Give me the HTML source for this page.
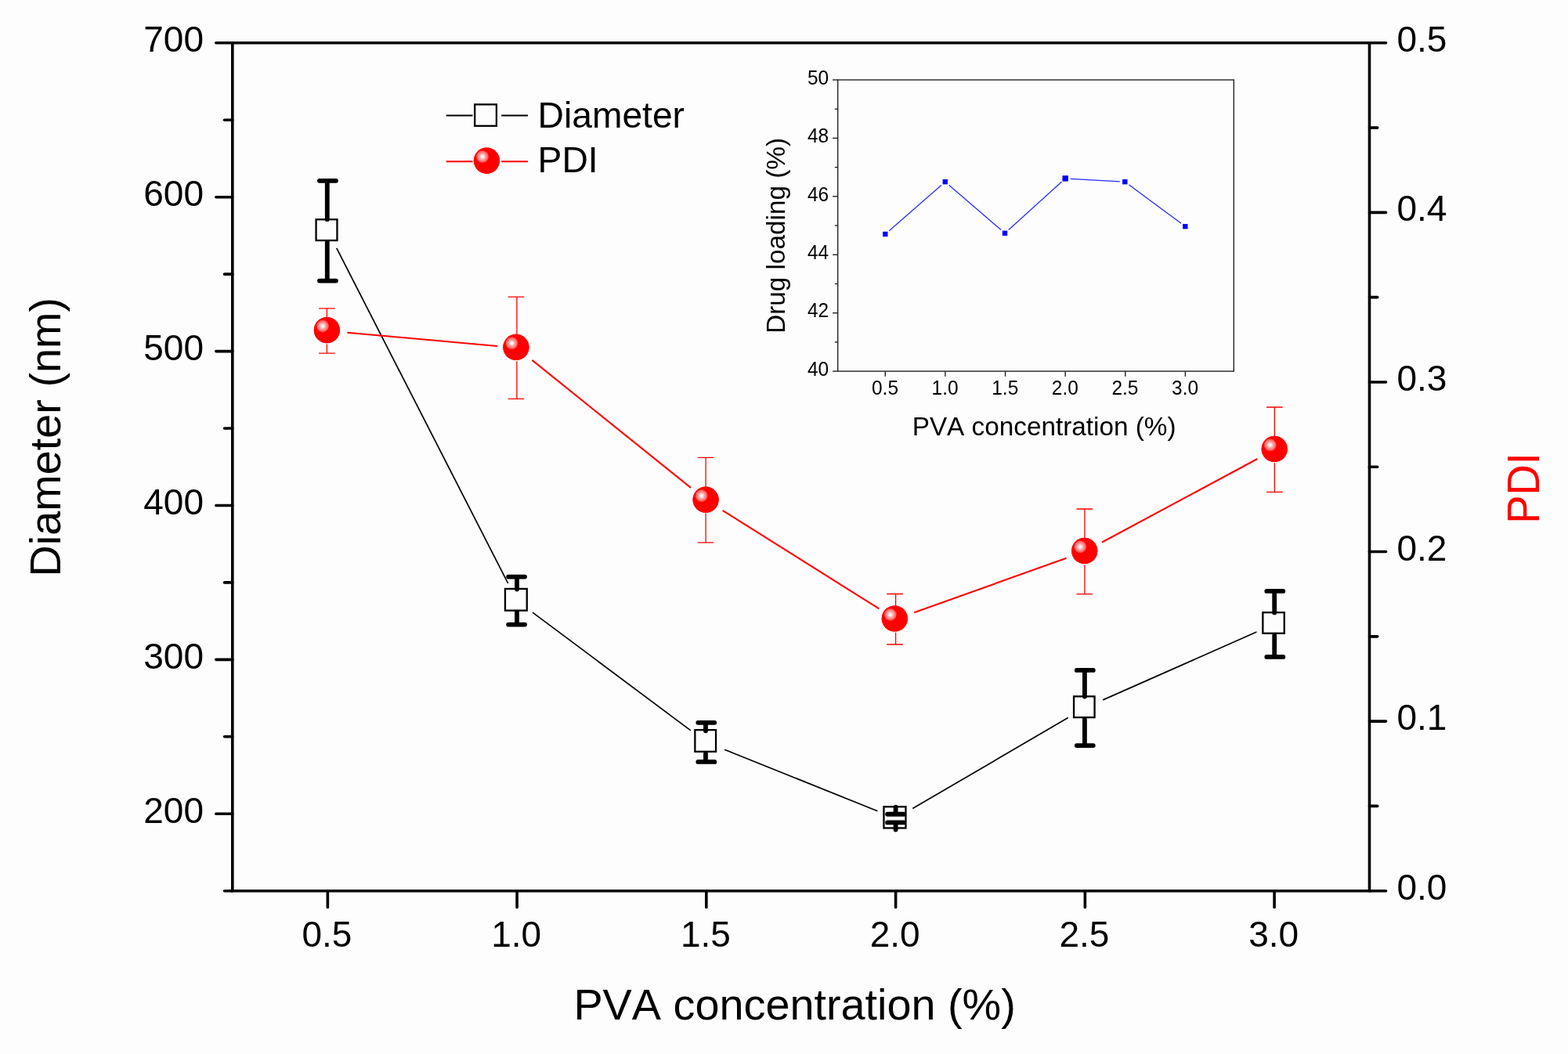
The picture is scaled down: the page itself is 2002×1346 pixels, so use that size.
<!DOCTYPE html>
<html lang="en">
<head>
<meta charset="utf-8">
<title>PVA concentration vs. Diameter and PDI</title>
<style>
html,body{margin:0;padding:0;background:#fdfdfd;}
body{width:2002px;height:1346px;overflow:hidden;}
svg{display:block;}
text{white-space:pre;}
</style>
</head>
<body>
<svg width="2002" height="1346" viewBox="0 0 2002 1346">
<defs>
<radialGradient id="ball" cx="0.335" cy="0.345" r="0.25" fx="0.335" fy="0.345" gradientUnits="objectBoundingBox"><stop offset="0" stop-color="#ffffff"/><stop offset="0.18" stop-color="#fff0f0"/><stop offset="0.45" stop-color="#ffa8a8"/><stop offset="0.85" stop-color="#ff5a5a"/><stop offset="1" stop-color="#ff0000"/></radialGradient>
</defs>
<rect x="0" y="0" width="2002" height="1346" fill="#fdfdfd"/>
<g stroke="#000" stroke-width="3.6" stroke-linecap="round" fill="none">
<path d="M296.8 54.8 H1748.5 M296.8 1137.7 H1748.5 M296.8 54.8 V1137.7 M1748.5 54.8 V1137.7" stroke-linecap="square"/>
<path d="M296.8 1137.70 H286.60"/>
<path d="M296.8 1039.25 H275.80"/>
<path d="M296.8 940.81 H286.60"/>
<path d="M296.8 842.36 H275.80"/>
<path d="M296.8 743.92 H286.60"/>
<path d="M296.8 645.47 H275.80"/>
<path d="M296.8 547.03 H286.60"/>
<path d="M296.8 448.58 H275.80"/>
<path d="M296.8 350.14 H286.60"/>
<path d="M296.8 251.69 H275.80"/>
<path d="M296.8 153.25 H286.60"/>
<path d="M296.8 54.80 H275.80"/>
<path d="M1748.5 1137.70 H1769.50"/>
<path d="M1748.5 1029.41 H1758.70"/>
<path d="M1748.5 921.12 H1769.50"/>
<path d="M1748.5 812.83 H1758.70"/>
<path d="M1748.5 704.54 H1769.50"/>
<path d="M1748.5 596.25 H1758.70"/>
<path d="M1748.5 487.96 H1769.50"/>
<path d="M1748.5 379.67 H1758.70"/>
<path d="M1748.5 271.38 H1769.50"/>
<path d="M1748.5 163.09 H1758.70"/>
<path d="M1748.5 54.80 H1769.50"/>
<path d="M418.35 1137.7 V1158.70"/>
<path d="M660.10 1137.7 V1158.70"/>
<path d="M901.85 1137.7 V1158.70"/>
<path d="M1143.60 1137.7 V1158.70"/>
<path d="M1385.35 1137.7 V1158.70"/>
<path d="M1627.10 1137.7 V1158.70"/>
</g>
<g font-family='"Liberation Sans", Arial, Helvetica, sans-serif' style="font-kerning:none">
<text transform="translate(260.00 1050.85) scale(1.0 1.02)" font-size="46" text-anchor="end" fill="#000">200</text>
<text transform="translate(260.00 853.96) scale(1.0 1.02)" font-size="46" text-anchor="end" fill="#000">300</text>
<text transform="translate(260.00 657.07) scale(1.0 1.02)" font-size="46" text-anchor="end" fill="#000">400</text>
<text transform="translate(260.00 460.18) scale(1.0 1.02)" font-size="46" text-anchor="end" fill="#000">500</text>
<text transform="translate(260.00 263.29) scale(1.0 1.02)" font-size="46" text-anchor="end" fill="#000">600</text>
<text transform="translate(260.00 66.40) scale(1.0 1.02)" font-size="46" text-anchor="end" fill="#000">700</text>
<text transform="translate(1783.40 1148.80) scale(1.0 1.02)" font-size="46" text-anchor="start" fill="#000">0.0</text>
<text transform="translate(1783.40 932.22) scale(1.0 1.02)" font-size="46" text-anchor="start" fill="#000">0.1</text>
<text transform="translate(1783.40 715.64) scale(1.0 1.02)" font-size="46" text-anchor="start" fill="#000">0.2</text>
<text transform="translate(1783.40 499.06) scale(1.0 1.02)" font-size="46" text-anchor="start" fill="#000">0.3</text>
<text transform="translate(1783.40 282.48) scale(1.0 1.02)" font-size="46" text-anchor="start" fill="#000">0.4</text>
<text transform="translate(1783.40 65.90) scale(1.0 1.02)" font-size="46" text-anchor="start" fill="#000">0.5</text>
<text transform="translate(417.45 1209.30) scale(1.0 1.02)" font-size="46" text-anchor="middle" fill="#000">0.5</text>
<text transform="translate(659.20 1209.30) scale(1.0 1.02)" font-size="46" text-anchor="middle" fill="#000">1.0</text>
<text transform="translate(900.95 1209.30) scale(1.0 1.02)" font-size="46" text-anchor="middle" fill="#000">1.5</text>
<text transform="translate(1142.70 1209.30) scale(1.0 1.02)" font-size="46" text-anchor="middle" fill="#000">2.0</text>
<text transform="translate(1384.45 1209.30) scale(1.0 1.02)" font-size="46" text-anchor="middle" fill="#000">2.5</text>
<text transform="translate(1626.20 1209.30) scale(1.0 1.02)" font-size="46" text-anchor="middle" fill="#000">3.0</text>
<text transform="translate(1014.60 1301.80)" font-size="55.8" text-anchor="middle" fill="#000">PVA concentration (%)</text>
<text transform="translate(77.30 558.20) rotate(-90)" font-size="55.8" text-anchor="middle" fill="#000">Diameter (nm)</text>
<text transform="translate(1964.60 623.50) rotate(-90) scale(0.975 1.03)" font-size="55.8" text-anchor="middle" fill="#ff0000">PDI</text>
</g>
<g stroke="#000" stroke-width="1.7" fill="none" stroke-linecap="butt">
<path d="M429.78 316.96 L648.62 744.84"/>
<path d="M680.03 782.06 L881.87 932.89"/>
<path d="M925.09 957.18 L1120.41 1035.77"/>
<path d="M1165.19 1032.50 L1363.71 916.60"/>
<path d="M1408.16 893.88 L1604.44 807.02"/>
</g>
<g stroke="#000" stroke-width="2.3" fill="#fdfdfd">
<rect x="403.55" y="280.25" width="26.90" height="26.80"/>
<rect x="644.95" y="751.95" width="27.80" height="27.70"/>
<rect x="887.35" y="932.15" width="26.70" height="27.70"/>
<rect x="1128.45" y="1030.25" width="28.00" height="27.20"/>
<rect x="1371.05" y="889.35" width="26.50" height="26.80"/>
<rect x="1612.35" y="782.15" width="27.40" height="26.60"/>
</g>
<g stroke="#000" stroke-width="5.8" stroke-linecap="round" fill="none">
<path d="M417.80 230.80 V280.20 M417.80 309.20 V358.60 M407.95 230.80 H428.95 M407.95 358.60 H428.95"/>
<path d="M660.00 736.60 V752.60 M660.00 781.60 V797.60 M649.10 736.60 H670.10 M649.10 797.60 H670.10"/>
<path d="M901.00 922.80 V933.35 M901.00 962.35 V972.90 M891.30 922.80 H912.30 M891.30 972.90 H912.30"/>
<path d="M1143.60 1039.75 V1030.60 M1143.60 1059.60 V1050.45 M1133.10 1039.75 H1154.10 M1133.10 1050.45 H1154.10"/>
<path d="M1384.90 855.90 V889.50 M1384.90 918.50 V952.10 M1374.80 855.90 H1395.80 M1374.80 952.10 H1395.80"/>
<path d="M1627.20 754.90 V782.40 M1627.20 811.40 V838.90 M1617.30 754.90 H1638.30 M1617.30 838.90 H1638.30"/>
</g>
<g stroke="#ff0000" stroke-width="2.1" fill="none" stroke-linecap="butt">
<path d="M443.30 424.74 L635.00 442.01"/>
<path d="M679.38 459.92 L882.02 622.93"/>
<path d="M922.67 651.90 L1122.43 777.45"/>
<path d="M1167.14 782.32 L1361.46 712.73"/>
<path d="M1407.03 692.48 L1605.37 586.02"/>
</g>
<g stroke="#ff0000" stroke-width="1.3" fill="none">
<path d="M417.40 393.90 V408.50 M417.40 439.50 V451.10 M407.10 393.90 H427.70 M407.10 451.10 H427.70"/>
<path d="M659.90 379.10 V430.25 M659.90 461.25 V509.40 M648.60 379.10 H669.20 M648.60 509.40 H669.20"/>
<path d="M901.10 584.30 V624.60 M901.10 655.60 V692.90 M890.80 584.30 H911.40 M890.80 692.90 H911.40"/>
<path d="M1143.60 758.50 V776.75 M1143.60 807.75 V823.00 M1132.20 758.50 H1152.80 M1132.20 823.00 H1152.80"/>
<path d="M1384.90 650.00 V690.30 M1384.90 721.30 V758.60 M1374.40 650.00 H1395.00 M1374.40 758.60 H1395.00"/>
<path d="M1627.40 520.00 V560.20 M1627.40 591.20 V628.40 M1617.10 520.00 H1637.70 M1617.10 628.40 H1637.70"/>
</g>
<circle cx="417.40" cy="421.60" r="16.6" fill="#ff0000"/>
<circle cx="417.40" cy="421.60" r="16.6" fill="url(#ball)"/>
<circle cx="658.90" cy="443.40" r="16.6" fill="#ff0000"/>
<circle cx="658.90" cy="443.40" r="16.6" fill="url(#ball)"/>
<circle cx="901.10" cy="638.20" r="16.6" fill="#ff0000"/>
<circle cx="901.10" cy="638.20" r="16.6" fill="url(#ball)"/>
<circle cx="1142.30" cy="790.00" r="16.6" fill="#ff0000"/>
<circle cx="1142.30" cy="790.00" r="16.6" fill="url(#ball)"/>
<circle cx="1384.70" cy="703.40" r="16.6" fill="#ff0000"/>
<circle cx="1384.70" cy="703.40" r="16.6" fill="url(#ball)"/>
<circle cx="1627.20" cy="573.40" r="16.6" fill="#ff0000"/>
<circle cx="1627.20" cy="573.40" r="16.6" fill="url(#ball)"/>
<g fill="none" stroke-width="2">
<path d="M569.7 147.5 H603.5 M640.2 147.5 H674" stroke="#000"/>
<path d="M569.7 206.2 H603.5 M640.2 206.2 H674" stroke="#ff0000"/>
</g>
<rect x="606.2" y="133.4" width="27.7" height="27.4" fill="#fdfdfd" stroke="#000" stroke-width="2.3"/>
<circle cx="621.4" cy="205.2" r="16.6" fill="#ff0000"/><circle cx="621.4" cy="205.2" r="16.6" fill="url(#ball)"/>
<g font-family='"Liberation Sans", Arial, Helvetica, sans-serif' style="font-kerning:none">
<text transform="translate(686.60 163.40)" font-size="46.2" text-anchor="start" fill="#000">Diameter</text>
<text transform="translate(686.60 220.40)" font-size="46.2" text-anchor="start" fill="#000">PDI</text>
</g>
<g stroke="#1c1c1c" stroke-width="1.35" fill="none" stroke-linecap="butt">
<rect x="1069.7" y="102.0" width="505.60" height="372.10"/>
<path d="M1069.7 474.10 H1063.10"/>
<path d="M1069.7 436.89 H1065.90"/>
<path d="M1069.7 399.68 H1063.10"/>
<path d="M1069.7 362.47 H1065.90"/>
<path d="M1069.7 325.26 H1063.10"/>
<path d="M1069.7 288.05 H1065.90"/>
<path d="M1069.7 250.84 H1063.10"/>
<path d="M1069.7 213.63 H1065.90"/>
<path d="M1069.7 176.42 H1063.10"/>
<path d="M1069.7 139.21 H1065.90"/>
<path d="M1069.7 102.00 H1063.10"/>
<path d="M1130.30 474.1 V480.70"/>
<path d="M1206.92 474.1 V480.70"/>
<path d="M1283.54 474.1 V480.70"/>
<path d="M1360.16 474.1 V480.70"/>
<path d="M1436.78 474.1 V480.70"/>
<path d="M1513.40 474.1 V480.70"/>
</g>
<g font-family='"Liberation Sans", Arial, Helvetica, sans-serif' style="font-kerning:none">
<text transform="translate(1058.20 479.90) scale(0.99 1.06)" font-size="24.7" text-anchor="end" fill="#000">40</text>
<text transform="translate(1058.20 405.48) scale(0.99 1.06)" font-size="24.7" text-anchor="end" fill="#000">42</text>
<text transform="translate(1058.20 331.06) scale(0.99 1.06)" font-size="24.7" text-anchor="end" fill="#000">44</text>
<text transform="translate(1058.20 256.64) scale(0.99 1.06)" font-size="24.7" text-anchor="end" fill="#000">46</text>
<text transform="translate(1058.20 182.22) scale(0.99 1.06)" font-size="24.7" text-anchor="end" fill="#000">48</text>
<text transform="translate(1058.20 107.80) scale(0.99 1.06)" font-size="24.7" text-anchor="end" fill="#000">50</text>
<text transform="translate(1130.00 503.80) scale(0.99 1.06)" font-size="24.7" text-anchor="middle" fill="#000">0.5</text>
<text transform="translate(1206.62 503.80) scale(0.99 1.06)" font-size="24.7" text-anchor="middle" fill="#000">1.0</text>
<text transform="translate(1283.24 503.80) scale(0.99 1.06)" font-size="24.7" text-anchor="middle" fill="#000">1.5</text>
<text transform="translate(1359.86 503.80) scale(0.99 1.06)" font-size="24.7" text-anchor="middle" fill="#000">2.0</text>
<text transform="translate(1436.48 503.80) scale(0.99 1.06)" font-size="24.7" text-anchor="middle" fill="#000">2.5</text>
<text transform="translate(1513.10 503.80) scale(0.99 1.06)" font-size="24.7" text-anchor="middle" fill="#000">3.0</text>
<text transform="translate(1333.10 555.90)" font-size="33.3" text-anchor="middle" fill="#000">PVA concentration (%)</text>
<text transform="translate(1002.00 300.90) rotate(-90)" font-size="33.3" text-anchor="middle" fill="#000">Drug loading (%)</text>
</g>
<g stroke="#0000ff" stroke-width="1.25" fill="none" stroke-opacity="0.85">
<path d="M1135.20 294.72 L1201.90 236.48"/>
<path d="M1211.73 236.44 L1278.07 293.56"/>
<path d="M1287.82 293.44 L1355.38 232.26"/>
<path d="M1366.69 228.27 L1429.81 231.83"/>
<path d="M1441.52 236.07 L1508.08 285.33"/>
</g>
<g fill="#0000ff">
<rect x="1127.10" y="295.80" width="6.4" height="6.4"/>
<rect x="1203.60" y="229.00" width="6.4" height="6.4"/>
<rect x="1279.80" y="294.60" width="6.4" height="6.4"/>
<rect x="1356.50" y="224.20" width="7.4" height="7.4"/>
<rect x="1433.10" y="229.00" width="6.4" height="6.4"/>
<rect x="1510.10" y="286.00" width="6.4" height="6.4"/>
</g>
</svg>
</body>
</html>
